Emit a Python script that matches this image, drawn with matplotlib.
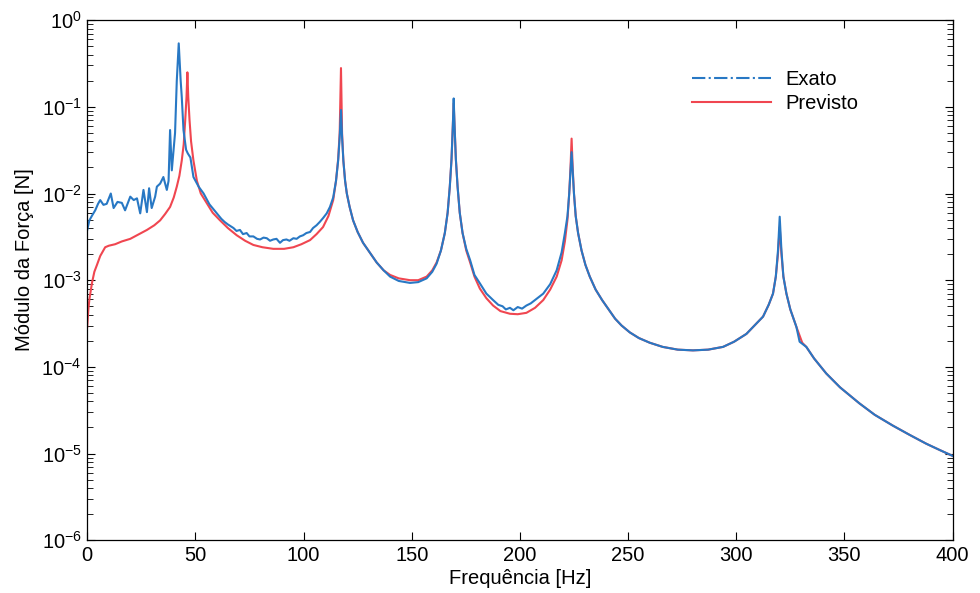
import numpy as np
import matplotlib.pyplot as plt
from matplotlib.lines import Line2D

freq_exato = [0, 1, 2.3, 3.7, 5, 6, 7.5, 9, 10.9, 12.2, 14, 16, 17.5, 19.9, 21.5, 23,
              24.5, 26, 27.6, 28.6, 29.8, 31.4, 32.2, 33.7, 35.2, 36.8, 37.6, 38.3, 39.1,
              40.6, 41.4, 42.3, 43.2, 43.7, 44.5, 45.7, 46.5, 47.7, 49.1, 51.5, 53.8,
              56.5, 59.9, 62, 63.5, 65, 67.6, 69, 70.6, 72, 73.7, 75, 76.8, 78.5, 79.9,
              81.5, 83, 84.5, 86, 87.5, 89.1, 90.5, 92.1, 93.5, 95.3, 96.8, 98.3, 99.8,
              101.3, 103, 104.4, 106, 107.5, 109, 110.7, 112.2, 113.7, 115, 116, 116.7,
              117.3, 117.8, 118.4, 119.2, 120, 121.3, 122.9, 125, 127.5, 130.5, 133.8,
              137, 140, 144, 149.2, 153, 156.9, 159.5, 161.5, 163.5, 165.3, 166.6, 167.6,
              168.4, 169, 169.4, 169.8, 170.4, 171.2, 172.2, 173.5, 175.2, 177, 179,
              181.5, 184.5, 187.6, 190, 192, 193.5, 195.4, 197, 199, 201, 203, 205, 207,
              210.8, 214, 217, 219.3, 220.8, 222, 222.8, 223.4, 223.9, 224.4, 225, 225.8,
              226.9, 228.5, 230.3, 232.3, 235, 238, 241, 244, 247, 250.8, 255, 260, 266,
              273, 280, 287, 293.9, 299, 304.7, 309, 312.4, 315, 317, 318.3, 319.3,
              320.1, 320.9, 321.8, 323.2, 325, 327.8, 329.3, 330.5, 332.4, 336, 341.6,
              348, 356.9, 364, 372.4, 380, 387.8, 394, 400]
exato = [3.8e-3, 4.9e-3, 5.6e-3, 6.4e-3, 7.6e-3, 8.4e-3, 7.4e-3, 7.6e-3, 1.0e-2, 6.8e-3,
         8.0e-3, 7.8e-3, 6.4e-3, 9.2e-3, 8.4e-3, 8.8e-3, 5.9e-3, 1.1e-2, 6.1e-3, 1.15e-2,
         6.8e-3, 9.2e-3, 1.2e-2, 1.3e-2, 1.55e-2, 1.1e-2, 1.4e-2, 5.4e-2, 1.85e-2,
         5.0e-2, 0.2, 0.54, 0.2, 0.13, 5.4e-2, 3.2e-2, 2.9e-2, 2.6e-2, 1.55e-2, 1.2e-2,
         1.0e-2, 7.5e-3, 5.9e-3, 5.1e-3, 4.7e-3, 4.4e-3, 4.0e-3, 3.7e-3, 3.8e-3, 3.4e-3,
         3.5e-3, 3.2e-3, 3.2e-3, 3.0e-3, 2.95e-3, 3.1e-3, 3.05e-3, 2.85e-3, 2.95e-3,
         3.0e-3, 2.7e-3, 2.9e-3, 2.95e-3, 2.85e-3, 3.05e-3, 3.0e-3, 3.2e-3, 3.3e-3,
         3.5e-3, 3.6e-3, 4.0e-3, 4.3e-3, 4.7e-3, 5.2e-3, 5.9e-3, 7.0e-3, 9.0e-3, 1.4e-2,
         2.4e-2, 4.5e-2, 0.092, 4.5e-2, 2.4e-2, 1.4e-2, 1.0e-2, 7.0e-3, 4.9e-3, 3.6e-3,
         2.7e-3, 2.1e-3, 1.6e-3, 1.3e-3, 1.1e-3, 9.8e-4, 9.3e-4, 9.5e-4, 1.05e-3, 1.25e-3,
         1.55e-3, 2.2e-3, 3.5e-3, 6.0e-3, 1.2e-2, 2.5e-2, 6.0e-2, 0.125, 6.0e-2, 2.5e-2,
         1.2e-2, 6.0e-3, 3.5e-3, 2.3e-3, 1.7e-3, 1.15e-3, 9.2e-4, 7.0e-4, 5.9e-4, 5.2e-4,
         5.0e-4, 4.6e-4, 4.8e-4, 4.5e-4, 4.9e-4, 4.7e-4, 5.1e-4, 5.4e-4, 5.9e-4, 7.0e-4,
         9.0e-4, 1.3e-3, 2.1e-3, 3.5e-3, 5.5e-3, 1.0e-2, 1.8e-2, 0.030, 1.8e-2, 1.0e-2,
         5.5e-3, 3.5e-3, 2.2e-3, 1.5e-3, 1.1e-3, 7.8e-4, 5.9e-4, 4.6e-4, 3.6e-4, 3.0e-4,
         2.5e-4, 2.15e-4, 1.9e-4, 1.7e-4, 1.58e-4, 1.55e-4, 1.58e-4, 1.7e-4, 1.95e-4,
         2.4e-4, 3.1e-4, 3.8e-4, 5.2e-4, 7.0e-4, 1.1e-3, 2.2e-3, 5.4e-3, 2.2e-3, 1.1e-3,
         7.0e-4, 4.6e-4, 2.9e-4, 1.95e-4, 1.85e-4, 1.7e-4, 1.25e-4, 8.4e-5, 5.8e-5,
         3.8e-5, 2.8e-5, 2.1e-5, 1.65e-5, 1.3e-5, 1.1e-5, 9.4e-6]

# Previsto (predicted)
freq_previsto = [0, 0.5, 1, 2.2, 3.3, 4.5, 6, 8.3, 10, 12.9, 16, 19.9, 24, 27.6, 31, 33.7,
                 36, 38.3, 40, 41.4, 42.6, 43.7, 44.6, 45.3, 45.9, 46.3, 46.7, 47.3, 48,
                 49.1, 50.7, 52.5, 55.3, 58, 61.4, 65, 69.1, 73, 76.8, 81, 86, 91, 95.3,
                 99, 103, 106, 109, 111.5, 113.7, 115, 116, 116.7, 117.3, 117.8, 118.4,
                 119.2, 120, 121.3, 122.9, 125, 127.5, 130.5, 133.8, 137, 140, 144, 149.2,
                 153, 156.9, 159.5, 161.5, 163.5, 165.3, 166.6, 167.6, 168.4, 169, 169.4,
                 169.8, 170.4, 171.2, 172.2, 173.5, 175.2, 177, 179, 181.5, 184.5, 187.6,
                 191, 195.4, 199, 203, 207, 210.8, 214, 217, 219.3, 220.8, 222, 222.8,
                 223.4, 223.9, 224.4, 225, 225.8, 226.9, 228.5, 230.3, 232.3, 235, 238,
                 241, 244, 247, 250.8, 255, 260, 266, 273, 280, 287, 293.9, 299, 304.7,
                 309, 312.4, 315, 317, 318.3, 319.3, 320.1, 320.9, 321.8, 323.2, 325,
                 327.8, 329.3, 330.5, 332.4, 336, 341.6, 348, 356.9, 364, 372.4, 380,
                 387.8, 394, 400]
previsto = [2.9e-4, 4.5e-4, 6.0e-4, 9.3e-4, 1.25e-3, 1.5e-3, 1.9e-3, 2.4e-3, 2.5e-3,
            2.6e-3, 2.8e-3, 3.0e-3, 3.4e-3, 3.8e-3, 4.3e-3, 4.9e-3, 5.8e-3, 7.0e-3,
            9.0e-3, 1.2e-2, 1.6e-2, 2.4e-2, 3.7e-2, 7.0e-2, 0.13, 0.25, 0.13, 7.0e-2,
            4.0e-2, 2.4e-2, 1.4e-2, 1.0e-2, 7.7e-3, 6.0e-3, 4.9e-3, 4.0e-3, 3.3e-3,
            2.85e-3, 2.55e-3, 2.4e-3, 2.3e-3, 2.3e-3, 2.4e-3, 2.6e-3, 2.9e-3, 3.4e-3,
            4.1e-3, 5.5e-3, 8.4e-3, 1.4e-2, 2.5e-2, 5.0e-2, 0.28, 5.0e-2, 2.4e-2, 1.4e-2,
            1.0e-2, 7.0e-3, 4.9e-3, 3.6e-3, 2.7e-3, 2.1e-3, 1.6e-3, 1.3e-3, 1.15e-3,
            1.05e-3, 1.0e-3, 1.0e-3, 1.1e-3, 1.3e-3, 1.6e-3, 2.2e-3, 3.5e-3, 6.0e-3,
            1.2e-2, 2.5e-2, 6.0e-2, 0.11, 6.0e-2, 2.5e-2, 1.2e-2, 6.0e-3, 3.5e-3, 2.2e-3,
            1.6e-3, 1.1e-3, 8.0e-4, 6.2e-4, 5.1e-4, 4.4e-4, 4.1e-4, 4.05e-4, 4.2e-4,
            4.8e-4, 5.9e-4, 7.8e-4, 1.1e-3, 1.7e-3, 2.8e-3, 5.0e-3, 1.0e-2, 2.0e-2,
            0.043, 2.0e-2, 1.0e-2, 5.5e-3, 3.5e-3, 2.2e-3, 1.5e-3, 1.1e-3, 7.8e-4, 5.9e-4,
            4.6e-4, 3.6e-4, 3.0e-4, 2.5e-4, 2.15e-4, 1.9e-4, 1.7e-4, 1.58e-4, 1.55e-4,
            1.58e-4, 1.7e-4, 1.95e-4, 2.4e-4, 3.1e-4, 3.8e-4, 5.2e-4, 7.0e-4, 1.1e-3,
            2.0e-3, 4.1e-3, 2.0e-3, 1.1e-3, 7.0e-4, 4.6e-4, 2.9e-4, 2.3e-4, 1.9e-4,
            1.7e-4, 1.25e-4, 8.4e-5, 5.8e-5, 3.8e-5, 2.8e-5, 2.1e-5, 1.65e-5, 1.3e-5,
            1.1e-5, 9.4e-6]

xticks = [0, 50, 100, 150, 200, 250, 300, 350, 400]

blue = '#2878c4'
red = '#f04650'

plt.rcParams['font.family'] = ['Liberation Sans', 'DejaVu Sans']
plt.rcParams['mathtext.fontset'] = 'custom'
plt.rcParams['mathtext.rm'] = 'Liberation Sans'
plt.rcParams['mathtext.it'] = 'Liberation Sans'

fig = plt.figure(figsize=(9.8, 5.93), dpi=100)
ax = fig.add_axes([0.089, 0.089, 0.883, 0.877])

ax.plot(freq_previsto, previsto, color=red, lw=1.5)
ax.plot(freq_exato, exato, color=blue, lw=1.5)

ax.set_yscale('log')
ax.set_xlim(0, 400)
ax.set_ylim(1e-6, 1)
ax.set_xticks(xticks)
ax.set_xticklabels([str(t) for t in xticks])
ax.set_yticks([10.0**k for k in range(-6, 1)])
ax.set_yticklabels([r'$\mathregular{10^{%d}}$' % k for k in range(-6, 1)])
ax.tick_params(which='both', direction='in', top=True, right=True, labelsize=14.5)
ax.tick_params(which='major', length=6, pad=4)
ax.tick_params(which='minor', length=4)
for s in ax.spines.values():
    s.set_linewidth(0.9)

ax.set_xlabel('Frequência [Hz]', fontsize=14.5, labelpad=3)
ax.set_ylabel('Módulo da Força [N]', fontsize=14.5)
ax.yaxis.set_label_coords(-0.062, 0.54)

handles = [Line2D([], [], color=blue, lw=1.5, ls='-.'),
           Line2D([], [], color=red, lw=1.5)]
ax.legend(handles, ['Exato', 'Previsto'], frameon=False, fontsize=14.5,
          handlelength=3.9, handletextpad=0.7, labelspacing=0.25,
          loc='upper left', bbox_to_anchor=(0.69, 0.92), borderaxespad=0)

fig.savefig('out.png')
